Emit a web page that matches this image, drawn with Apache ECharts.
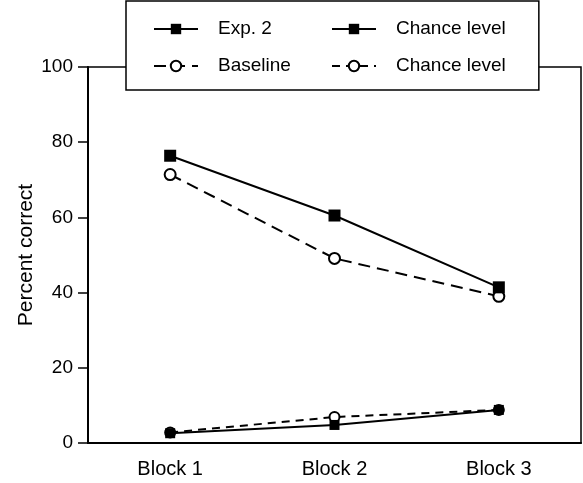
<!DOCTYPE html>
<html>
<head>
<meta charset="utf-8">
<script src="https://cdn.jsdelivr.net/npm/echarts@6/dist/echarts.min.js"></script>
<style>
  html, body { margin: 0; padding: 0; background: #fff; }
  #chart { width: 583px; height: 483px; }
</style>
</head>
<body>
<div id="chart"></div>
<script>
// categories on the x axis
var blocks = ["Block 1", "Block 2", "Block 3"];
// percent correct
var exp2 = [76.4, 60.5, 41.4];
var baseline = [71.4, 49.1, 39.0];
var chanceExp2 = [2.6, 4.8, 8.8];
var chanceBaseline = [2.8, 6.9, 8.8];
// y ticks
var yMin = 0, yMax = 100, yStep = 20;

var font = "'Liberation Sans', Arial, sans-serif";
var ink = "#000";

var myChart = echarts.init(document.getElementById("chart"));

myChart.setOption({
    backgroundColor: "#fff",
    animation: false,
    textStyle: { fontFamily: font, color: ink },
    grid: {
        left: 88,
        right: 2,
        top: 67,
        bottom: 40,
        show: true,
        borderColor: ink,
        borderWidth: 1.5
    },
    //图例 两列两行，带边框
    legend: {
        data: ["Exp. 2", "Chance level (Exp. 2)", "Baseline", "Chance level (Baseline)"],
        left: 126,
        top: 1,
        width: 360,
        orient: "horizontal",
        padding: [17, 33, 13, 27],
        itemGap: 15,
        itemWidth: 44,
        itemHeight: 13,
        backgroundColor: "#fff",
        borderColor: ink,
        borderWidth: 1.5,
        borderRadius: 0,
        formatter: function(name) {
            return name.indexOf("Chance level") === 0 ? "Chance level" : name;
        },
        textStyle: {
            fontFamily: font,
            fontSize: 19,
            color: ink,
            lineHeight: 22,
            width: 98,
            padding: [0, 0, 0, 15]
        }
    },
    xAxis: {
        type: "category",
        data: blocks,
        boundaryGap: true,
        axisLine: { lineStyle: { color: ink, width: 2 } },
        axisTick: { length: 12, lineStyle: { color: ink, width: 1.5 } },
        axisLabel: { fontFamily: font, fontSize: 20, color: ink, margin: 16 },
        splitLine: { show: false }
    },
    yAxis: {
        type: "value",
        min: yMin,
        max: yMax,
        interval: yStep,
        name: "Percent correct",
        nameLocation: "middle",
        nameRotate: 90,
        nameGap: 51,
        nameMoveOverlap: false,
        nameTextStyle: { fontFamily: font, fontSize: 21, color: ink },
        axisLine: { show: true, lineStyle: { color: ink, width: 2 } },
        axisTick: { show: true, length: 10, lineStyle: { color: ink, width: 1.5 } },
        axisLabel: { fontFamily: font, fontSize: 19, color: ink, margin: 15 },
        splitLine: { show: false }
    },
    series: [
        {
            name: "Baseline",
            type: "line",
            data: baseline,
            symbol: "circle",
            symbolSize: 11,
            lineStyle: { color: ink, width: 2, type: [12, 7] },
            itemStyle: { color: "#fff", borderColor: ink, borderWidth: 2 },
            z: 2
        },
        {
            name: "Exp. 2",
            type: "line",
            data: exp2,
            symbol: "rect",
            symbolSize: 12,
            lineStyle: { color: ink, width: 2 },
            itemStyle: { color: ink },
            z: 3
        },
        {
            name: "Chance level (Baseline)",
            type: "line",
            data: chanceBaseline,
            symbol: "circle",
            symbolSize: 10,
            lineStyle: { color: ink, width: 2, type: [8, 6] },
            itemStyle: { color: "#fff", borderColor: ink, borderWidth: 2 },
            z: 2
        },
        {
            name: "Chance level (Exp. 2)",
            type: "line",
            data: chanceExp2,
            symbol: "rect",
            symbolSize: 10,
            lineStyle: { color: ink, width: 2 },
            itemStyle: { color: ink },
            z: 3
        }
    ]
});

window.addEventListener("resize", function() {
    myChart.resize();
});
</script>
</body>
</html>
